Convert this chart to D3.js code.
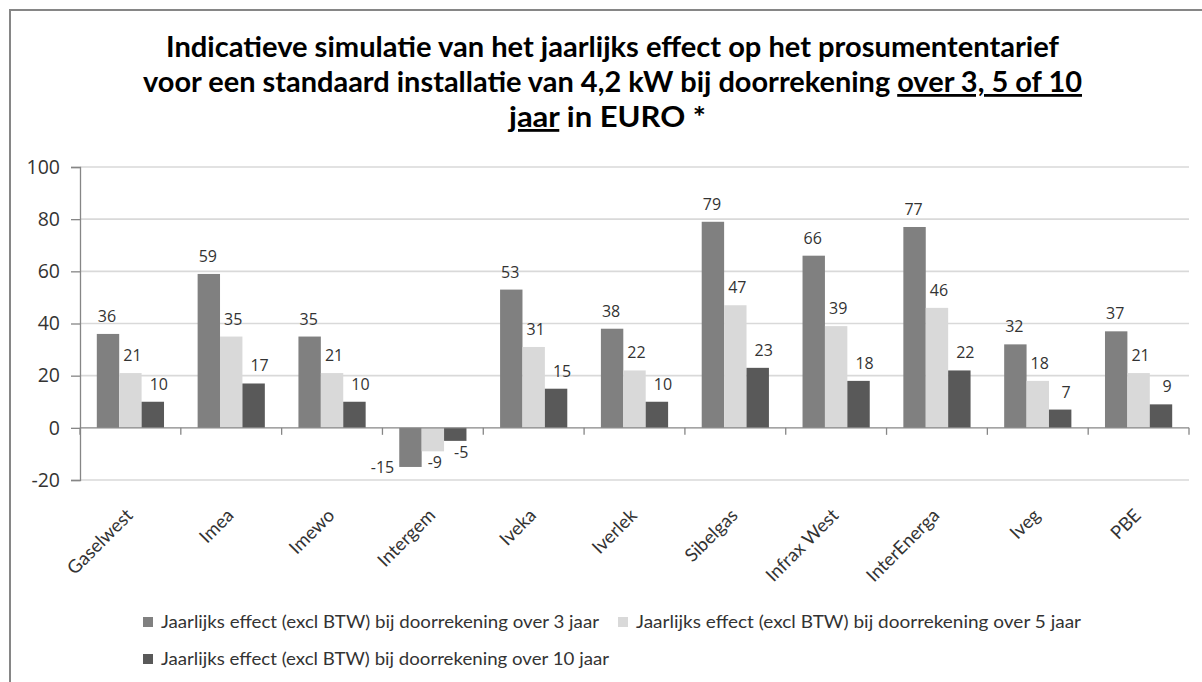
<!DOCTYPE html>
<html>
<head>
<meta charset="utf-8">
<script src="https://cdn.jsdelivr.net/npm/d3@7/dist/d3.min.js"></script>
<style>
  html, body { margin: 0; padding: 0; background: #ffffff; }
  svg { display: block; }
</style>
</head>
<body>
<svg id="chart" width="1202" height="682"></svg>
<script>
// ---- DATA ----
const categories = ["Gaselwest", "Imea", "Imewo", "Intergem", "Iveka", "Iverlek", "Sibelgas", "Infrax West", "InterEnerga", "Iveg", "PBE"];
const effect3 = [36, 59, 35, -15, 53, 38, 79, 66, 77, 32, 37];
const effect5 = [21, 35, 21, -9, 31, 22, 47, 39, 46, 18, 21];
const effect10 = [10, 17, 10, -5, 15, 10, 23, 18, 22, 7, 9];
const seriesNames = [
  "Jaarlijks effect (excl BTW) bij doorrekening over 3 jaar",
  "Jaarlijks effect (excl BTW) bij doorrekening over 5 jaar",
  "Jaarlijks effect (excl BTW) bij doorrekening over 10 jaar"
];
const yTicks = [-20, 0, 20, 40, 60, 80, 100];
const titleLine1 = "Indicatieve simulatie van het jaarlijks effect op het prosumententarief";
const titleLine2a = "voor een standaard installatie van 4,2 kW bij doorrekening ";
const titleLine2b = "over 3, 5 of 10";
const titleLine3a = "jaar";
const titleLine3b = " in EURO *";

// ---- STYLE / LAYOUT ----
const colors = ["#808080", "#d9d9d9", "#595959"];
const series = [effect3, effect5, effect10];
const svg = d3.select("#chart");
const plot = { left: 80, right: 1189, top: 167, bottom: 480 };
const numFont = "'Open Sans', 'DejaVu Sans', sans-serif";
const txtFont = "Lato, 'Open Sans', sans-serif";

// chart border
svg.append("rect").attr("x", 10).attr("y", 10).attr("width", 1215).attr("height", 700)
  .attr("fill", "none").attr("stroke", "#868686").attr("stroke-width", 2);

// title
const title = svg.append("g").attr("font-family", txtFont).attr("font-weight", "bold")
  .attr("font-size", 28).attr("fill", "#000");
title.append("text").attr("x", 166).attr("y", 57)
  .attr("textLength", 893).attr("lengthAdjust", "spacingAndGlyphs").text(titleLine1);
const t2 = title.append("text").attr("x", 143).attr("y", 92)
  .attr("textLength", 939).attr("lengthAdjust", "spacingAndGlyphs");
t2.append("tspan").text(titleLine2a);
t2.append("tspan").style("text-decoration", "underline").text(titleLine2b);
const t3 = title.append("text").attr("x", 509).attr("y", 127)
  .attr("textLength", 197).attr("lengthAdjust", "spacingAndGlyphs");
t3.append("tspan").style("text-decoration", "underline").text(titleLine3a);
t3.append("tspan").text(titleLine3b);

// scales
const x0 = d3.scaleBand().domain(categories).range([plot.left, plot.right]).padding(0);
const x1 = d3.scaleBand().domain([0, 1, 2]).range([0, x0.bandwidth()])
  .paddingInner(0).paddingOuter(0.75);
const y = d3.scaleLinear().domain([-20, 100]).range([plot.bottom, plot.top]);

// gridlines
svg.append("g").selectAll("line").data(yTicks.filter(d => d !== 0)).join("line")
  .attr("x1", plot.left).attr("x2", plot.right)
  .attr("y1", d => y(d)).attr("y2", d => y(d))
  .attr("stroke", "#d9d9d9").attr("stroke-width", 1.6);

// y axis
const yAxis = d3.axisLeft(y).tickValues(yTicks).tickFormat(d => String(d))
  .tickSize(9).tickPadding(11);
const gy = svg.append("g").attr("transform", `translate(${plot.left},0)`).call(yAxis);
gy.select(".domain").attr("stroke", "#868686").attr("stroke-width", 1.3);
gy.selectAll(".tick line").attr("stroke", "#868686").attr("stroke-width", 1.3);
gy.selectAll(".tick text").attr("font-family", numFont).attr("font-size", 19.5)
  .attr("fill", "#333");

// bars
const groups = svg.append("g").selectAll("g").data(categories).join("g")
  .attr("transform", d => `translate(${x0(d)},0)`);
groups.selectAll("rect").data((d, i) => series.map((s, k) => ({ k, v: s[i] }))).join("rect")
  .attr("x", d => x1(d.k)).attr("width", x1.bandwidth())
  .attr("y", d => y(Math.max(0, d.v)))
  .attr("height", d => Math.abs(y(d.v) - y(0)))
  .attr("fill", d => colors[d.k]);

// x axis (zero line) with boundary ticks
const xAxisG = svg.append("g");
xAxisG.append("line").attr("x1", plot.left).attr("x2", plot.right)
  .attr("y1", y(0)).attr("y2", y(0)).attr("stroke", "#868686").attr("stroke-width", 1.3);
const boundaries = categories.map(c => x0(c) + x0.bandwidth()).concat([plot.left]);
xAxisG.selectAll("line.tk").data(boundaries).join("line").attr("class", "tk")
  .attr("x1", d => d).attr("x2", d => d)
  .attr("y1", y(0)).attr("y2", y(0) + 7)
  .attr("stroke", "#868686").attr("stroke-width", 1.3);

// category labels (low position, rotated)
svg.append("g").selectAll("text").data(categories).join("text")
  .attr("transform", d => `translate(${x0(d) + x0.bandwidth() / 2 - 1},${plot.bottom + 32}) rotate(-45)`)
  .attr("text-anchor", "end").attr("dy", "0.35em")
  .attr("font-family", txtFont).attr("font-size", 18.5).attr("fill", "#333")
  .text(d => d);

// data labels
const labelShift = [-1, 2, 6];
groups.selectAll("text").data((d, i) => series.map((s, k) => ({ k, v: s[i] }))).join("text")
  .attr("font-family", numFont).attr("font-size", 16).attr("fill", "#333")
  .each(function (d) {
    const cx = x1(d.k) + x1.bandwidth() / 2 + labelShift[d.k];
    const sel = d3.select(this);
    if (d.v >= 0) {
      sel.attr("x", cx).attr("y", y(d.v) - 12).attr("text-anchor", "middle");
    } else {
      const by = y(d.v) + 17;
      if (by > plot.bottom) {
        sel.attr("x", x1(d.k) - 5).attr("y", y(d.v) + 6).attr("text-anchor", "end");
      } else {
        sel.attr("x", cx).attr("y", by).attr("text-anchor", "middle");
      }
    }
  })
  .text(d => d.v);

// legend
const legendPos = [[143, 617], [618, 617], [143, 654]];
const legendWidths = [438, 445, 448];
const lg = svg.append("g").selectAll("g").data(seriesNames).join("g")
  .attr("transform", (d, i) => `translate(${legendPos[i][0]},${legendPos[i][1]})`);
lg.append("rect").attr("width", 10).attr("height", 10).attr("fill", (d, i) => colors[i]);
lg.append("text").attr("x", 18).attr("y", 11)
  .attr("font-family", txtFont).attr("font-size", 17.5).attr("fill", "#333")
  .attr("textLength", (d, i) => legendWidths[i]).attr("lengthAdjust", "spacingAndGlyphs")
  .text(d => d);
</script>
</body>
</html>
